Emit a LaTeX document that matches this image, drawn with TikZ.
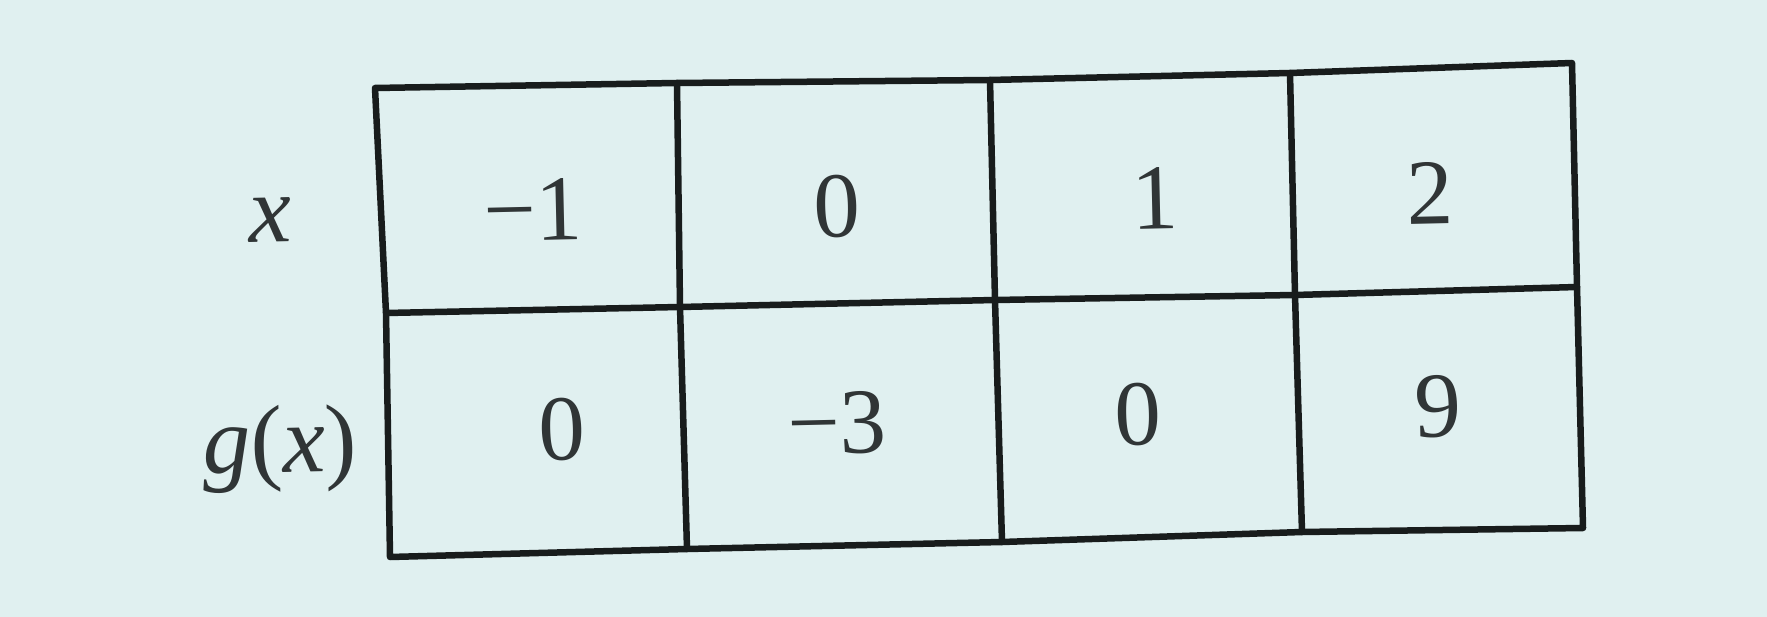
\documentclass[tikz,border=0pt]{standalone}
\usepackage{fontspec}
\setmainfont{Liberation Serif}
\definecolor{bg}{RGB}{224,240,240}
\definecolor{rule}{RGB}{24,28,28}
\definecolor{ink}{RGB}{48,53,54}
\begin{document}
\begin{tikzpicture}[x=1pt,y=-1pt,
  gridline/.style={draw=rule,line width=6.5pt,line cap=round,line join=round},
  cell/.style={text=ink,inner sep=0pt,rotate=1.3,font=\fontsize{93}{100}\selectfont},
  lab/.style={text=ink,inner sep=0pt,rotate=1.3,font=\fontsize{96}{104}\selectfont\itshape}]
\fill[bg] (0,0) rectangle (1767,617);
\useasboundingbox (0,0) rectangle (1767,617);
% grid points
\coordinate (t0) at (375,88);  \coordinate (t1) at (677,83);  \coordinate (t2) at (990,80);
\coordinate (t3) at (1290,73); \coordinate (t4) at (1572,63);
\coordinate (m0) at (386,313); \coordinate (m1) at (680,307); \coordinate (m2) at (995,300);
\coordinate (m3) at (1295,295);\coordinate (m4) at (1577,287);
\coordinate (b0) at (390,557); \coordinate (b1) at (687,549); \coordinate (b2) at (1002,542);
\coordinate (b3) at (1302,532);\coordinate (b4) at (1583,528);
% lines
\draw[gridline] (t0) -- (t1) -- (t2) -- (t3) -- (t4) -- (m4) -- (b4) -- (b3) -- (b2) -- (b1) -- (b0) -- (m0) -- cycle;
\draw[gridline] (m0) -- (m1) -- (m2) -- (m3) -- (m4);
\draw[gridline] (t1) -- (m1) -- (b1);
\draw[gridline] (t2) -- (m2) -- (b2);
\draw[gridline] (t3) -- (m3) -- (b3);
% labels
\node[lab] (lx) at (270,220) {x};
\node[lab] (lg) at (280,449) {g\textup{(}x\textup{)}};
% row x
\node[cell] (x1) at (533,210) {−1};
\node[cell] (x2) at (837,207) {0};
\node[cell] (x3) at (1155,198) {1};
\node[cell] (x4) at (1430,193) {2};
% row g(x)
\node[cell] (g1) at (562,430) {0};
\node[cell] (g2) at (837,423) {−3};
\node[cell] (g3) at (1138,415) {0};
\node[cell] (g4) at (1438,407) {9};
\end{tikzpicture}
\end{document}
